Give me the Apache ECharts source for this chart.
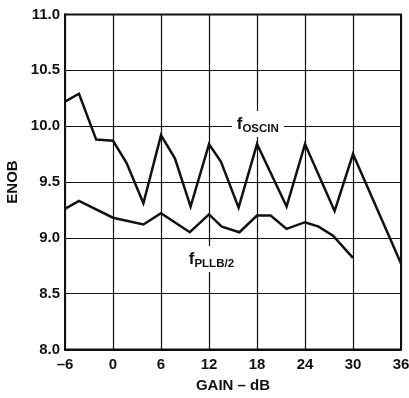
<!DOCTYPE html>
<html>
<head>
<meta charset="utf-8">
<script src="https://cdn.jsdelivr.net/npm/echarts@6/dist/echarts.min.js"></script>
<style>html,body{margin:0;padding:0;background:#fff}#c{width:409px;height:398px}</style>
</head>
<body>
<div id="c"></div>
<script>
const oscinGain = [-6, -4.25, -2.1, 0, 1.7, 3.8, 6, 7.75, 9.7, 12, 13.5, 15.7, 18, 21.7, 24, 27.7, 30, 36];
const oscinEnob = [10.22, 10.29, 9.88, 9.87, 9.67, 9.31, 9.92, 9.71, 9.28, 9.84, 9.68, 9.27, 9.84, 9.28, 9.84, 9.24, 9.75, 8.77];
const pllbGain = [-6, -4.25, 0, 3.8, 6, 9.6, 12, 13.6, 15.8, 18, 19.7, 21.7, 24, 25.7, 27.5, 30];
const pllbEnob = [9.26, 9.33, 9.18, 9.12, 9.22, 9.05, 9.21, 9.10, 9.05, 9.20, 9.20, 9.08, 9.14, 9.10, 9.02, 8.82];
const xTicks = [-6, 0, 6, 12, 18, 24, 30, 36];
const yTicks = [8.0, 8.5, 9.0, 9.5, 10.0, 10.5, 11.0];

const zip = (a, b) => a.map((v, i) => [v, b[i]]);
const FONT = '"Liberation Sans", Arial, sans-serif';
const rich = {
  f: { fontSize: 17, fontWeight: 'bold', fontFamily: FONT, color: '#111', lineHeight: 22, verticalAlign: 'middle' },
  s: { fontSize: 11.5, fontWeight: 'bold', fontFamily: FONT, color: '#111', lineHeight: 12, verticalAlign: 'bottom' }
};
function curveLabel(x, y, sub) {
  return {
    silent: true,
    symbol: 'rect', symbolSize: [1, 1],
    itemStyle: { color: 'rgba(0,0,0,0)' },
    data: [{ coord: [x, y],
      label: { show: true, position: 'inside', formatter: '{f|f}{s|' + sub + '}', rich: rich,
               backgroundColor: '#fff', padding: [2, 5, 2, 5] } }]
  };
}
const axisFont = { fontSize: 15, fontWeight: 'bold', fontFamily: FONT, color: '#111' };
const chart = echarts.init(document.getElementById('c'), null, { renderer: 'canvas' });
chart.setOption({
  animation: false,
  backgroundColor: '#fff',
  grid: { left: 65, right: 8, top: 14.5, bottom: 48.5, containLabel: false, outerBoundsMode: 'none',
          show: true, borderColor: '#111', borderWidth: 2, backgroundColor: 'transparent' },
  xAxis: {
    type: 'value', min: xTicks[0], max: xTicks[xTicks.length - 1], interval: 6,
    name: 'GAIN – dB', nameLocation: 'middle', nameGap: 29,
    nameTextStyle: axisFont,
    axisLine: { show: true, onZero: false, lineStyle: { color: '#111', width: 2 } },
    axisTick: { show: false },
    splitLine: { show: true, lineStyle: { color: '#111', width: 1.2 } },
    axisLabel: Object.assign({ margin: 8, formatter: v => (v < 0 ? '–' + Math.abs(v) : String(v)) }, axisFont)
  },
  yAxis: {
    type: 'value', min: yTicks[0], max: yTicks[yTicks.length - 1], interval: 0.5,
    name: 'ENOB', nameLocation: 'middle', nameGap: 40, nameRotate: 90,
    nameTextStyle: axisFont,
    axisLine: { show: true, onZero: false, lineStyle: { color: '#111', width: 2 } },
    axisTick: { show: false },
    splitLine: { show: true, lineStyle: { color: '#111', width: 1.2 } },
    axisLabel: Object.assign({ margin: 5, formatter: v => v.toFixed(1) }, axisFont)
  },
  series: [
    { type: 'line', data: zip(oscinGain, oscinEnob), symbol: 'none', z: 3,
      lineStyle: { color: '#111', width: 2.5, join: 'miter' },
      markPoint: curveLabel(18.1, 10.02, 'OSCIN') },
    { type: 'line', data: zip(pllbGain, pllbEnob), symbol: 'none', z: 3,
      lineStyle: { color: '#111', width: 2.5, join: 'miter' },
      markPoint: curveLabel(12.3, 8.81, 'PLLB/2') }
  ]
});
</script>
</body>
</html>
